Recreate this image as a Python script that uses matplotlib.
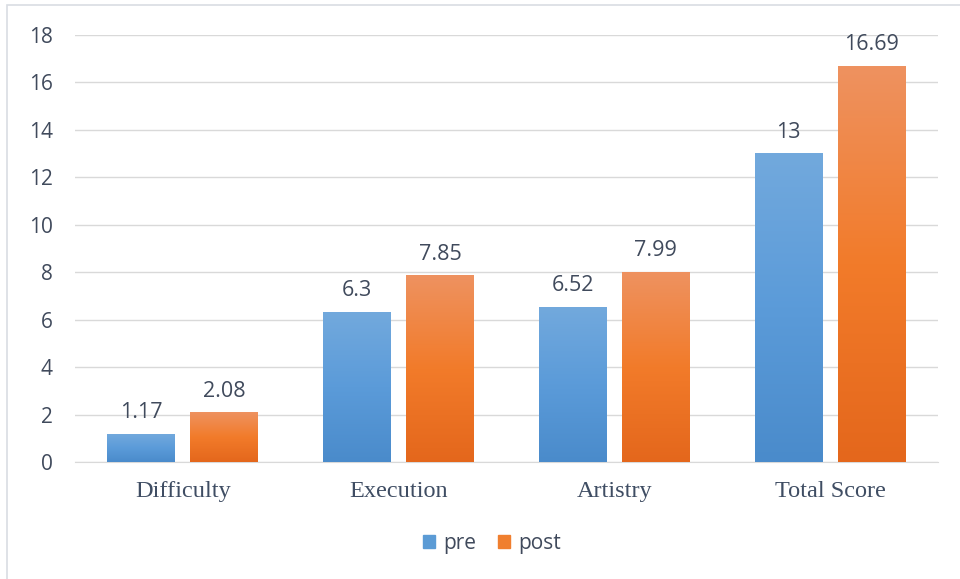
import matplotlib.pyplot as plt
import numpy as np
from matplotlib.colors import LinearSegmentedColormap
from matplotlib.patches import Rectangle

categories = ["Difficulty", "Execution", "Artistry", "Total Score"]
pre = [1.17, 6.3, 6.52, 13]
post = [2.08, 7.85, 7.99, 16.69]
pre_labels = ["1.17", "6.3", "6.52", "13"]
post_labels = ["2.08", "7.85", "7.99", "16.69"]

blue_cm = LinearSegmentedColormap.from_list("b", ["#4a8bcb", "#5b9bd9", "#72a9dd"])
orange_cm = LinearSegmentedColormap.from_list("o", ["#e4671c", "#f27b2a", "#ee9260"])
text_col = "#404a5c"
sans = "Open Sans"

fig = plt.figure(figsize=(9.6, 5.79), dpi=100)
fig.patches.append(Rectangle((7 / 960, -0.01), 1.0, (579 - 5) / 579 + 0.01,
                             transform=fig.transFigure, fill=False,
                             edgecolor="#d9dde3", linewidth=1.2))
ax = fig.add_axes([75 / 960, (579 - 462) / 579, 863 / 960, 427 / 579])

x = np.arange(len(categories))
w = 0.315
gap = 0.07
grad = np.linspace(0, 1, 256).reshape(-1, 1)


def gradient_bar(xc, h, cmap):
    ax.imshow(grad, extent=[xc - w / 2, xc + w / 2, 0, h], origin="lower",
              cmap=cmap, aspect="auto", zorder=3, interpolation="bilinear")


for i in range(len(categories)):
    xp = x[i] - (w + gap) / 2
    xq = x[i] + (w + gap) / 2
    gradient_bar(xp, pre[i], blue_cm)
    gradient_bar(xq, post[i], orange_cm)
    ax.annotate(pre_labels[i], (xp, pre[i]), xytext=(0, 8), textcoords="offset points",
                ha="center", va="bottom", fontsize=15.5, color=text_col, family=sans)
    ax.annotate(post_labels[i], (xq, post[i]), xytext=(0, 8), textcoords="offset points",
                ha="center", va="bottom", fontsize=15.5, color=text_col, family=sans)

ax.set_xlim(-0.5, len(categories) - 0.5)
ax.set_ylim(0, 18)
ax.set_yticks(range(0, 19, 2))
ax.set_xticks(x)
ax.set_xticklabels(categories, family="Liberation Serif", fontsize=17.5, color="#3f4d63")
ax.tick_params(axis="x", length=0, pad=14)
ax.tick_params(axis="y", length=0, pad=16, labelsize=15, labelcolor=text_col)
for lab in ax.get_yticklabels():
    lab.set_family(sans)
ax.grid(axis="y", color="#d9d9d9", linewidth=1, zorder=0)
ax.set_axisbelow(True)
for s in ["top", "right", "left"]:
    ax.spines[s].set_visible(False)
ax.spines["bottom"].set_color("#d9d9d9")

handles = [Rectangle((0, 0), 1, 1, color="#5b9bd5"), Rectangle((0, 0), 1, 1, color="#f07f2f")]
fig.legend(handles, ["pre", "post"], loc="center", bbox_to_anchor=(492 / 960, 1 - 543 / 579),
           ncol=2, frameon=False, prop={"family": sans, "size": 15},
           handlelength=0.6, handleheight=0.6, handletextpad=0.4, columnspacing=1.0,
           labelcolor=text_col)

fig.savefig("out.png", dpi=100)
